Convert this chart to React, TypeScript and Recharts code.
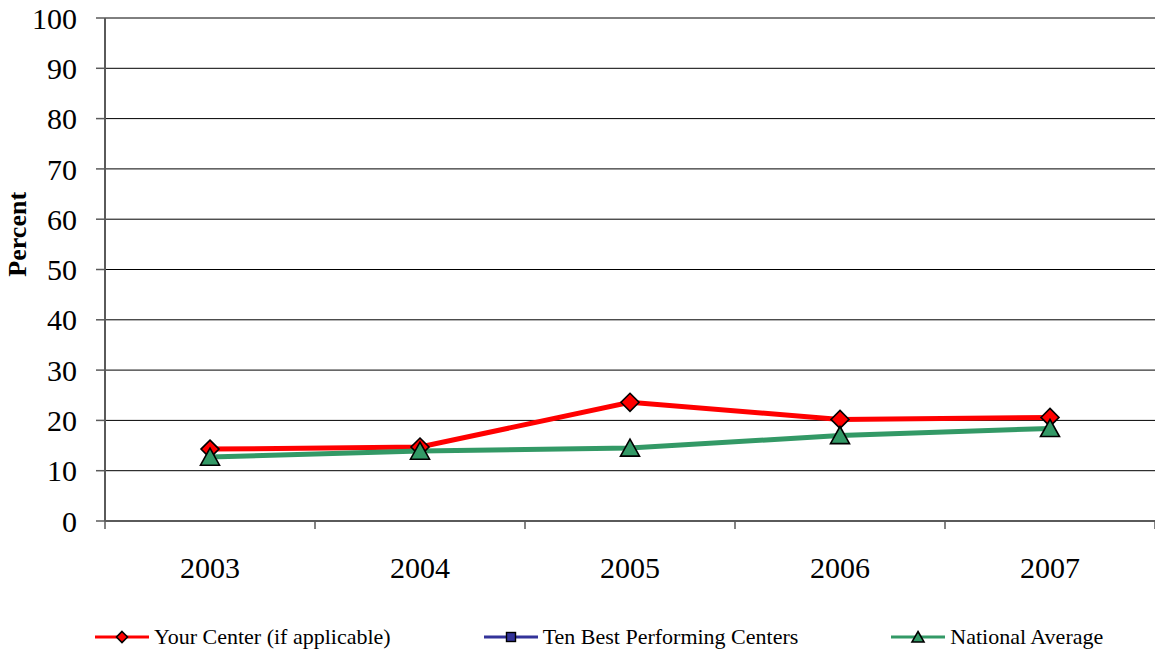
import React from "react";
import { LineChart, Line, XAxis, YAxis, CartesianGrid, Legend } from "recharts";

const years = ["2003", "2004", "2005", "2006", "2007"];
const yourCenter = [14.3, 14.7, 23.6, 20.2, 20.6];
const tenBest: (number | null)[] = [null, null, null, null, null];
const nationalAvg = [12.7, 13.9, 14.5, 17.0, 18.4];
const yTicks = [0, 10, 20, 30, 40, 50, 60, 70, 80, 90, 100];
const legendOrder = ["your", "best", "national"];

const RED = "#FF0000";
const NAVY = "#333399";
const GREEN = "#339966";
const AXIS = "#5a5a5a";
const FONT = "'Liberation Serif', 'Times New Roman', serif";
const X_LABEL_GAP = 36;

// category slot i sits in the middle of [i, i+1]
const data = years.map((y, i) => ({
  pos: i + 0.5,
  year: y,
  your: yourCenter[i],
  best: tenBest[i],
  national: nationalAvg[i],
}));

// boundaries (integers) get a tick mark, centres (halves) get the year label
const xTicks: number[] = [];
for (let i = 0; i <= years.length; i++) {
  xTicks.push(i);
  if (i < years.length) xTicks.push(i + 0.5);
}

function XTick({ x, y, payload }: any) {
  const v = payload.value;
  if (Number.isInteger(v)) {
    const top = y - X_LABEL_GAP;
    return <line x1={x} y1={top} x2={x} y2={top + 8} stroke={AXIS} strokeWidth={1.5} />;
  }
  return (
    <text x={x} y={y} dy="0.71em" textAnchor="middle" fill="#000" fontFamily={FONT} fontSize={30}>
      {years[Math.floor(v)]}
    </text>
  );
}

function Diamond({ cx, cy, r = 9, fill }: any) {
  if (cx == null || cy == null) return null;
  return (
    <polygon
      points={`${cx},${cy - r} ${cx + r},${cy} ${cx},${cy + r} ${cx - r},${cy}`}
      fill={fill}
      stroke="#000"
      strokeWidth={1.6}
    />
  );
}

function Triangle({ cx, cy, r = 9, fill }: any) {
  if (cx == null || cy == null) return null;
  return (
    <polygon
      points={`${cx},${cy - r} ${cx + r + 0.5},${cy + r * 0.9} ${cx - r - 0.5},${cy + r * 0.9}`}
      fill={fill}
      stroke="#000"
      strokeWidth={1.6}
    />
  );
}

function Square({ cx, cy, r = 5, fill }: any) {
  if (cx == null || cy == null) return null;
  return <rect x={cx - r} y={cy - r} width={r * 2} height={r * 2} fill={fill} stroke="#000" strokeWidth={1.4} />;
}

const markers: Record<string, any> = { your: Diamond, best: Square, national: Triangle };

function LegendContent({ payload }: any) {
  const items = [...(payload || [])].sort(
    (a: any, b: any) => legendOrder.indexOf(a.dataKey) - legendOrder.indexOf(b.dataKey)
  );
  return (
    <div
      style={{
        display: "flex",
        alignItems: "center",
        gap: 93,
        paddingLeft: 95,
        marginTop: 9,
        fontFamily: FONT,
        fontSize: 22,
        color: "#000",
      }}
    >
      {items.map((p: any) => {
        const M = markers[p.dataKey];
        return (
          <div key={p.dataKey} style={{ display: "flex", alignItems: "center" }}>
            <svg width={54} height={16}>
              <line x1={0} y1={8} x2={54} y2={8} stroke={p.color} strokeWidth={3} />
              <M cx={27} cy={8} r={p.dataKey === "best" ? 4.5 : 5.5} fill={p.color} />
            </svg>
            <span style={{ marginLeft: 5, whiteSpace: "nowrap" }}>{p.value}</span>
          </div>
        );
      })}
    </div>
  );
}

function PercentLabel({ viewBox }: any) {
  const x = viewBox.x + 18;
  const y = viewBox.y + viewBox.height * 0.43;
  return (
    <text
      x={x}
      y={y}
      transform={`rotate(-90, ${x}, ${y})`}
      textAnchor="middle"
      dominantBaseline="central"
      fontFamily={FONT}
      fontWeight="bold"
      fontSize={26}
      fill="#000"
    >
      Percent
    </text>
  );
}

export default function App() {
  const tickStyle = { fill: "#000", fontFamily: FONT, fontSize: 30 };
  return (
    <div style={{ position: "absolute", left: 0, top: 0, width: 1155, height: 651, background: "#fff" }}>
      <LineChart width={1155} height={651} data={data} margin={{ top: 18, right: 0, left: 0, bottom: 0 }}>
        <CartesianGrid vertical={false} stroke="#000" strokeWidth={1} />
        <XAxis
          type="number"
          dataKey="pos"
          domain={[0, years.length]}
          ticks={xTicks}
          tick={<XTick />}
          tickLine={false}
          tickSize={0}
          tickMargin={X_LABEL_GAP}
          axisLine={{ stroke: AXIS, strokeWidth: 2 }}
          height={94}
          interval={0}
        />
        <YAxis
          domain={[0, 100]}
          ticks={yTicks}
          width={105}
          interval={0}
          tick={tickStyle}
          tickSize={9}
          tickMargin={19}
          axisLine={{ stroke: AXIS, strokeWidth: 2 }}
          tickLine={{ stroke: AXIS, strokeWidth: 1.5 }}
          label={<PercentLabel />}
        />
        <Legend verticalAlign="bottom" height={36} content={<LegendContent />} />
        <Line
          dataKey="your"
          name="Your Center (if applicable)"
          stroke={RED}
          strokeWidth={5}
          isAnimationActive={false}
          dot={(props: any) => <Diamond key={`y-${props.index}`} cx={props.cx} cy={props.cy} fill={RED} />}
          activeDot={false}
        />
        <Line
          dataKey="best"
          name="Ten Best Performing Centers"
          stroke={NAVY}
          strokeWidth={5}
          isAnimationActive={false}
          dot={(props: any) => <Square key={`b-${props.index}`} cx={props.cx} cy={props.cy} fill={NAVY} />}
          activeDot={false}
        />
        <Line
          dataKey="national"
          name="National Average"
          stroke={GREEN}
          strokeWidth={5}
          isAnimationActive={false}
          dot={(props: any) => <Triangle key={`n-${props.index}`} cx={props.cx} cy={props.cy} fill={GREEN} />}
          activeDot={false}
        />
      </LineChart>
    </div>
  );
}
